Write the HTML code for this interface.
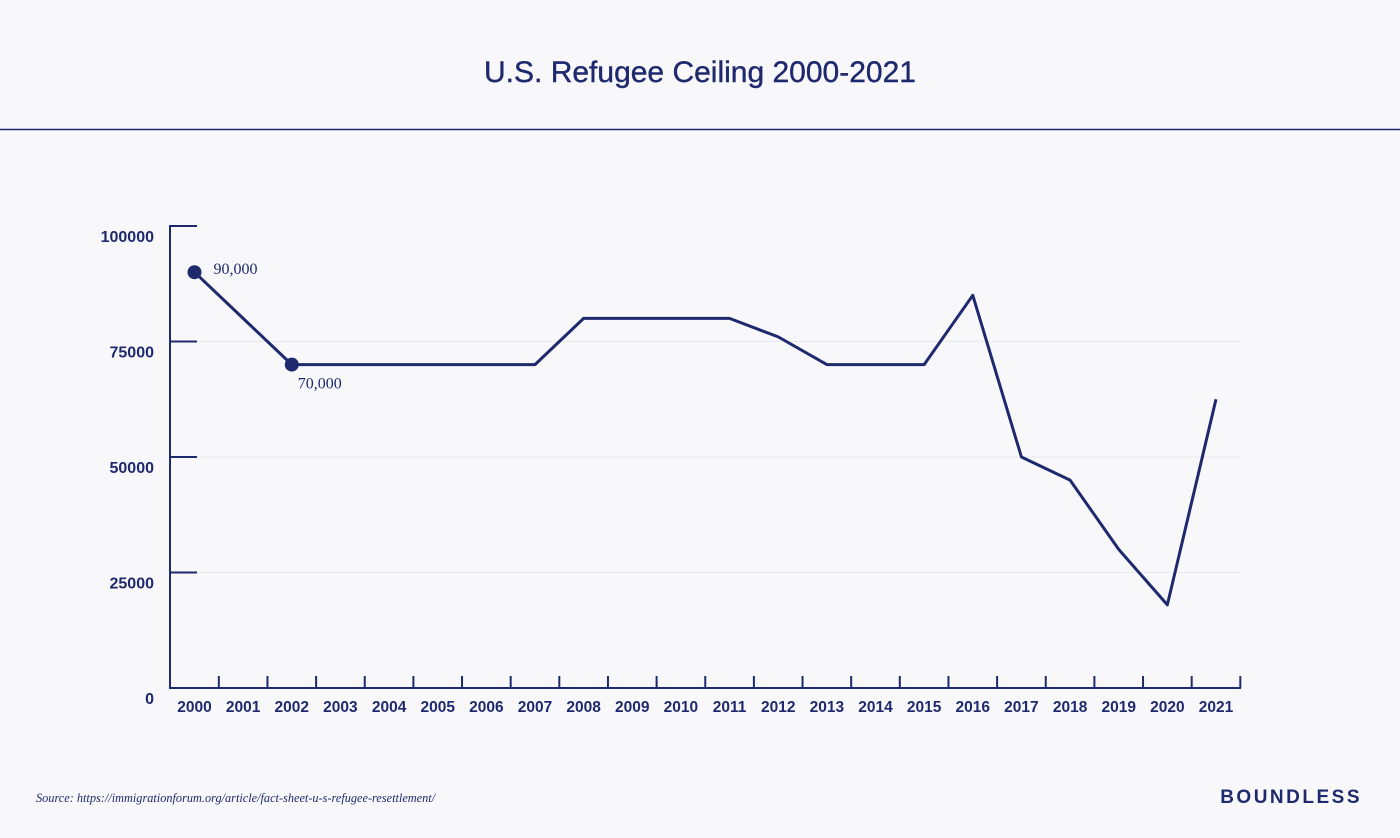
<!DOCTYPE html>
<html><head><meta charset="utf-8"><style>
html,body{margin:0;padding:0;background:#f8f8fb;}
body{width:1400px;height:838px;overflow:hidden;position:relative;font-family:"Liberation Sans",sans-serif;color:#1f2a6e;}
svg{position:absolute;left:0;top:0;}
</style></head><body>
<svg width="1400" height="838">
<text x="700" y="82" text-anchor="middle" font-size="30" fill="#1f2a6e" stroke="#1f2a6e" stroke-width="0.4">U.S. Refugee Ceiling 2000-2021</text>
<line x1="0" y1="129.5" x2="1400" y2="129.5" stroke="#1f2a6e" stroke-width="1.5"/>
<g id="plot"></g>
<text x="36" y="802" font-family="Liberation Serif" font-style="italic" font-size="12.3" fill="#1f2a6e">Source: https://immigrationforum.org/article/fact-sheet-u-s-refugee-resettlement/</text>
<text x="1362" y="803" text-anchor="end" font-size="19" font-weight="bold" letter-spacing="2.5" fill="#1f2a6e">BOUNDLESS</text>
</svg>
<script>
const years=[2000,2001,2002,2003,2004,2005,2006,2007,2008,2009,2010,2011,2012,2013,2014,2015,2016,2017,2018,2019,2020,2021];
const ceilings=[90000,80000,70000,70000,70000,70000,70000,70000,80000,80000,80000,80000,76000,70000,70000,70000,85000,50000,45000,30000,18000,62500];
const yTicks=[0,25000,50000,75000,100000];
const annotations=[{i:0,label:"90,000"},{i:2,label:"70,000"}];
const C="#1f2a6e",NS="http://www.w3.org/2000/svg";
const g=document.getElementById('plot');
const x0=194.5,dx=(1216-194.5)/(years.length-1);
const X=i=>x0+i*dx;
const Y=v=>688-v*(688-226)/100000;
function mk(t,a){const e=document.createElementNS(NS,t);for(const k in a)e.setAttribute(k,a[k]);g.appendChild(e);return e;}
yTicks.forEach(v=>{
  if(v>0&&v<100000){const gl=mk('line',{x1:197,x2:1240,y1:Y(v),y2:Y(v),stroke:'#e8e8ef','stroke-width':1});
  
  }
  if(v>0){const t=mk('line',{x1:170,x2:197,y1:Y(v),y2:Y(v),stroke:C,'stroke-width':2});
  
  }
  const l=mk('text',{x:154,y:Y(v)+16,'text-anchor':'end','font-size':16,'font-weight':'bold',fill:C});
  l.textContent=v;
  
  
});
const ya=mk('line',{x1:170,x2:170,y1:225,y2:689,stroke:C,'stroke-width':2});


const xa=mk('line',{x1:169,x2:1241,y1:688,y2:688,stroke:C,'stroke-width':2});


years.forEach((yr,i)=>{
  const tk=mk('line',{x1:X(i)+dx/2,x2:X(i)+dx/2,y1:676,y2:688,stroke:C,'stroke-width':2});
  
  
  const t=mk('text',{x:X(i),y:712,'text-anchor':'middle','font-size':15.5,'font-weight':'bold',fill:C});
  t.textContent=yr;
  
  
});
const p=mk('polyline',{points:ceilings.map((v,i)=>X(i)+','+Y(v)).join(' '),fill:'none',stroke:C,'stroke-width':3,'stroke-linejoin':'round'});


annotations.forEach((a,k)=>{
  const c=mk('circle',{cx:X(a.i),cy:Y(ceilings[a.i]),r:7,fill:C});
  
  
  const t=mk('text',{x:X(a.i)+(k===0?19:6),y:Y(ceilings[a.i])+(k===0?2:24),'font-family':'Liberation Serif','font-size':16,fill:C});
  t.textContent=a.label;
  
  
});
</script>
</body></html>
